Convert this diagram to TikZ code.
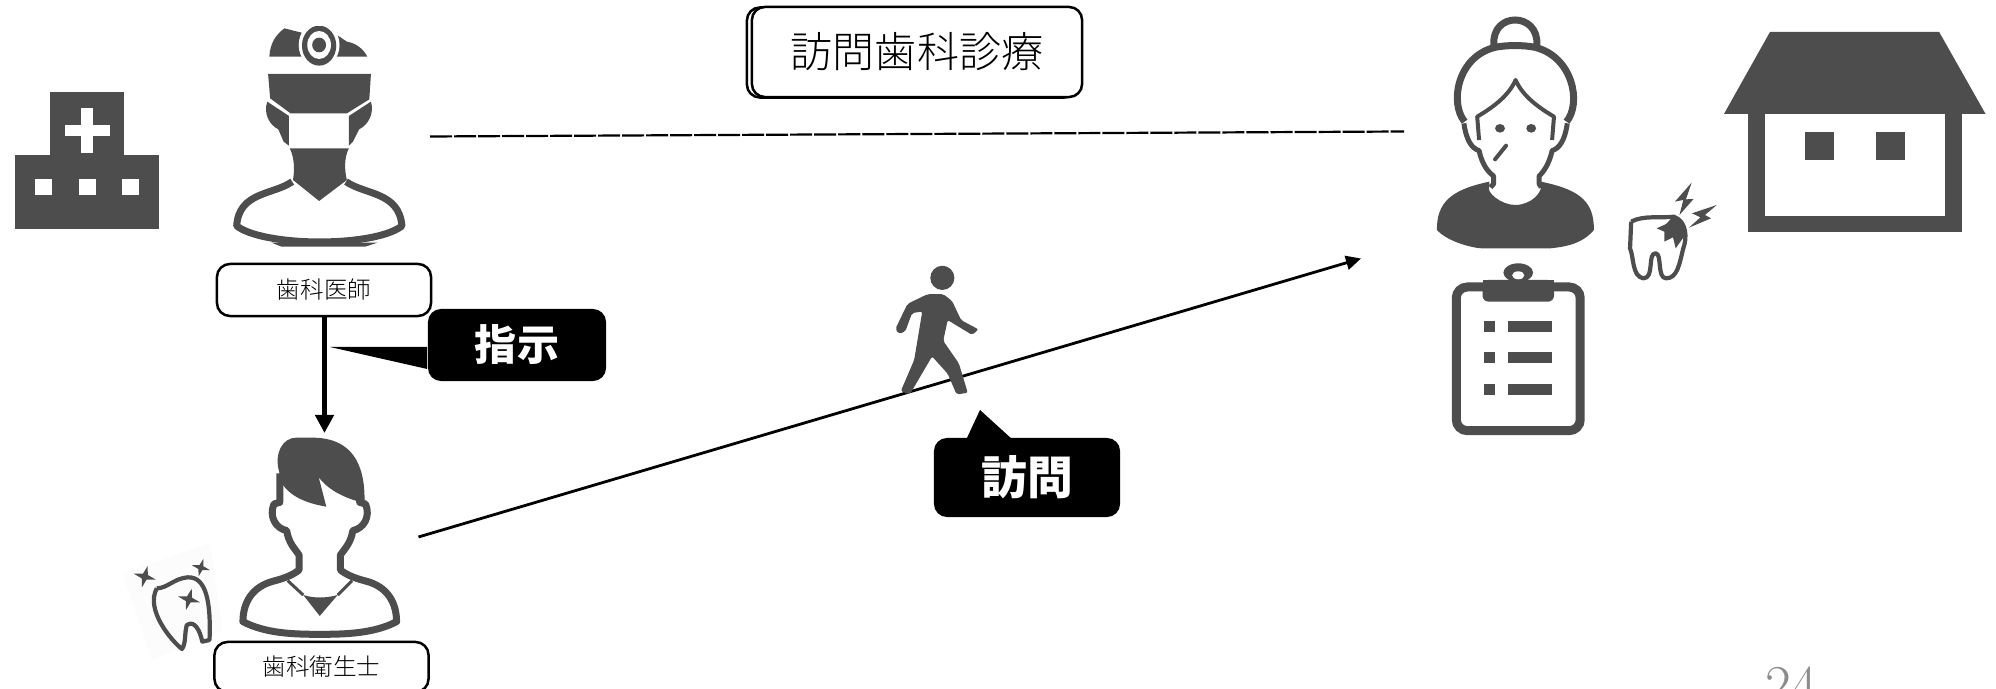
\documentclass[tikz,border=0pt]{standalone}
\usepackage{fontspec}
\newfontfamily\cjk{Noto Sans CJK JP}
\newfontfamily\cjklight{Noto Sans CJK JP Light}
\usepackage{xcolor}
\usepackage{tikz}
\usetikzlibrary{arrows.meta}
\definecolor{icongray}{HTML}{4D4D4D}
\tikzset{
    icon/.style={fill=icongray,draw=none},
    outline/.style={draw=icongray,line width=0.07cm,line join=round},
    rolebox/.style={draw=black,fill=white,line width=0.025cm,rounded corners=0.13cm,inner sep=0,
        minimum width=2.14cm,minimum height=0.52cm,font=\cjklight\fontsize{6.7}{8}\selectfont},
    callout/.style={fill=black,text=white,rounded corners=0.13cm,inner sep=0,font=\cjk\bfseries\fontsize{11.95}{14}\selectfont}
}

\begin{document}
\begin{tikzpicture}[x=0.01cm,y=-0.01cm]
    \useasboundingbox (0,0) rectangle (1996,689);

    % Hospital
    \fill[icon] (50,92) rectangle (124,155);
    \fill[icon] (15,155) rectangle (159,229);
    \fill[white] (81,108) rectangle (93,153);
    \fill[white] (64.5,125) rectangle (109.5,136);
    \foreach \wx in {35,79,122}
        \fill[white] (\wx,179) rectangle ++(17,16);

    % Dentist, head lamp and mask
    \begin{scope}[x=0.01cm/2.45,y=-0.01cm/3]
        \fill[icon] (660,170) .. controls (662,130) and (675,105) .. (697,85) -- (745,100) -- (820,100) -- (850,125)
            .. controls (875,130) and (892,150) .. (900,170) -- cycle;
        \fill[white] (782,135) ellipse (50 and 70);
        \fill[icon] (782,137) ellipse (42 and 60);
        \fill[white] (782,135) ellipse (29 and 42);
        \fill[icon] (782,135) ellipse (17 and 22);
        \fill[white] (700,60) rectangle (860,77);
        \fill[icon] (657,222) -- (909,222) -- (905,298) -- (850,340) -- (712,340) -- (662,295) -- cycle;
        \fill[icon] (655,305) -- (708,348) -- (708,437) -- (695,425) -- (682,388) .. controls (660,375) and (645,340) .. (655,305);
        \fill[icon] (909,305) -- (855,348) -- (855,437) -- (865,425) -- (880,388) .. controls (902,375) and (918,340) .. (909,305);
        \fill[icon] (710,445) -- (855,445) .. controls (842,475) and (845,515) .. (850,540) -- (782,603) -- (718,540)
            .. controls (722,510) and (722,475) .. (710,445);
        \draw[outline] (716,545) .. controls (670,585) and (585,575) .. (580,678) .. controls (620,715) and (720,726) .. (782,726)
            .. controls (850,726) and (945,715) .. (985,678) .. controls (978,575) and (895,585) .. (848,545);
        \fill[icon] (665,728) -- (925,728) -- (895,740) -- (690,740) -- cycle;
    \end{scope}

    % Role labels
    \node[rolebox] (dentist) at (324,290) {歯科医師};
    \node[rolebox,minimum height=0.5cm] (hygienist) at (321.5,667) {歯科衛生士};

    % Dental hygienist
    \begin{scope}[shift={(100,340)},x=0.01cm/2.904,y=-0.01cm/3]
        \draw[outline] (522,400) -- (522,487) -- (505,492) .. controls (490,530) and (510,565) .. (542,572)
            .. controls (548,610) and (565,625) .. (578,645) -- (578,690) .. controls (560,705) and (535,715) .. (505,723)
            .. controls (440,740) and (415,790) .. (415,845) .. controls (480,880) and (560,883) .. (638,883)
            .. controls (716,883) and (796,880) .. (861,845) .. controls (861,790) and (836,740) .. (771,723)
            .. controls (741,715) and (716,705) .. (698,690) -- (698,645) .. controls (711,625) and (728,610) .. (734,572)
            .. controls (766,565) and (786,530) .. (771,492) -- (754,487) -- (754,440);
        \fill[icon] (520,395) .. controls (505,340) and (530,293) .. (570,293) -- (620,293)
            .. controls (730,295) and (770,370) .. (768,485) -- (742,482) .. controls (690,465) and (655,440) .. (635,412)
            -- (657,500) .. controls (600,490) and (550,470) .. (525,425) -- cycle;
        \fill[icon] (590,765) .. controls (620,775) and (656,775) .. (690,765) -- (638,828) -- cycle;
        \draw[icongray,line width=0.03cm] (545,722) -- (590,765) (732,722) -- (690,765);
    \end{scope}

    % Tooth with stars
    \begin{scope}[shift={(100,340)},x=0.01cm/2.904,y=-0.01cm/3]
        \fill[black!1] (65,700) -- (320,610) -- (355,870) -- (150,960) -- cycle;
        \draw[draw=icongray,line width=0.042cm,line join=round] (165,745) .. controls (195,745) and (215,715) .. (255,712)
            .. controls (310,710) and (322,790) .. (318,900) -- (297,905) .. controls (285,850) and (265,845) .. (252,855)
            .. controls (245,880) and (250,910) .. (238,927) .. controls (210,905) and (130,810) .. (165,745);
        \foreach \sx/\sy/\sr in {130/710/33,293/683/27,258/778/33}
            \fill[icon,shift={(\sx,\sy)},rotate=-15] (0,-\sr) -- (0.22*\sr,-0.22*\sr) -- (\sr,0) -- (0.22*\sr,0.22*\sr)
                -- (0,\sr) -- (-0.22*\sr,0.22*\sr) -- (-\sr,0) -- (-0.22*\sr,-0.22*\sr) -- cycle;
    \end{scope}

    % Title box, with a second outline behind it
    \node[rolebox,minimum width=3.3cm,minimum height=0.9cm] (titleshade) at (912,52.5) {};
    \node[rolebox,minimum width=3.3cm,minimum height=0.9cm,font=\cjklight\fontsize{11.95}{14}\selectfont] (titlebox) at (917,52) {訪問歯科診療};

    % Links between the people
    \coordinate (dashstart) at (430,136.5);
    \coordinate (dashend) at (1404,131.5);
    \coordinate (hygienisttop) at (324.5,433);
    \coordinate (visitstart) at (418.5,537);
    \coordinate (visitend) at (1361,258.5);
    \draw[line width=0.022cm,dash pattern=on 0.22cm off 0.02cm] (dashstart) -- (dashend);
    \draw[line width=0.055cm,-{Triangle[width=0.18cm,length=0.18cm]}] (dentist.south -| hygienisttop) -- (hygienisttop);
    \draw[line width=0.028cm,-{Triangle[width=0.14cm,length=0.15cm]}] (visitstart) -- (visitend);

    % Callouts
    \node[callout,minimum width=1.78cm,minimum height=0.72cm] (order) at (517,345) {指示};
    \fill (order.west |- 0,347) -- (330,347) -- (order.west |- 0,369) -- cycle;
    \node[callout,minimum width=1.86cm,minimum height=0.79cm,font=\cjk\bfseries\fontsize{13}{15}\selectfont] (visit) at (1027,477.5) {訪問};
    \fill (966,440) -- (980,410) -- (1013,440) -- cycle;

    % Walking person
    \begin{scope}[shift={(700,0)},x=0.01cm/2.24,y=-0.01cm/2.89]
        \fill[icon] (543,803) ellipse (27 and 35);
        \fill[icon,rounded corners=0.02cm] (510,850) -- (465,878) -- (438,950) -- (445,965) -- (460,958) -- (475,905) -- (498,900) -- (480,1040)
            -- (450,1130) -- (470,1140) -- (520,1030) -- (555,1080) -- (575,1140) -- (600,1135) -- (580,1050)
            -- (545,985) -- (555,925) -- (610,968) -- (624,952) -- (585,925) -- (565,870) -- (545,850) -- cycle;
    \end{scope}

    % Patient, clipboard, aching tooth and home
    \begin{scope}[shift={(1400,0)},x=0.01cm/2.63,y=-0.01cm/3]
        \draw[outline] (247,135) .. controls (240,35) and (365,35) .. (360,135);
        \draw[outline] (170,365) .. controls (130,310) and (150,170) .. (250,142) .. controls (280,135) and (325,135) .. (355,142)
            .. controls (455,170) and (478,310) .. (438,365);
        \draw[draw=icongray,line width=0.04cm,line join=round] (208,420) -- (203,350) .. controls (240,325) and (285,290) .. (304,240)
            .. controls (323,290) and (368,325) .. (405,350) -- (400,420);
        \draw[outline,line width=0.05cm] (168,370) .. controls (175,425) and (190,445) .. (208,452) .. controls (215,490) and (230,515) .. (246,528) -- (246,552) -- (238,562);
        \draw[outline,line width=0.05cm] (440,370) .. controls (433,425) and (418,445) .. (400,452) .. controls (393,490) and (378,515) .. (366,528) -- (366,552) -- (372,562);
        \fill[icon] (235,545) .. controls (130,570) and (97,610) .. (97,690) .. controls (130,730) and (200,745) .. (215,745)
            -- (395,745) .. controls (440,740) and (480,730) .. (510,690) .. controls (510,610) and (480,570) .. (370,545)
            .. controls (380,575) and (345,615) .. (303,615) .. controls (265,615) and (225,575) .. (235,560) -- cycle;
        \fill[icon] (263,385) ellipse (13 and 13);
        \fill[icon] (345,385) ellipse (13 and 13);
        \draw[icongray,line width=0.04cm,line cap=round] (279,437) -- (250,478);

        % clipboard
        \draw[draw=icongray,line width=0.09cm,rounded corners=0.11cm] (148,861) rectangle (474,1292);
        \fill[icon] (311,818) ellipse (39 and 28);
        \fill[white] (311,826) ellipse (16 and 12);
        \fill[icon,rounded corners=0.06cm] (217,840) rectangle (405,905);
        \fill[icon] (217,840) rectangle (405,870);
        \foreach \ry in {962,1057,1153} {
            \fill[icon] (222,\ry) rectangle ++(28,33);
            \fill[icon] (283,\ry) rectangle ++(117,33);
        }

        % aching tooth
        \draw[draw=icongray,line width=0.042cm,line join=round] (608,665) .. controls (640,645) and (690,655) .. (720,650)
            .. controls (755,665) and (755,715) .. (745,745) .. controls (735,790) and (730,835) .. (700,835)
            .. controls (675,835) and (690,760) .. (672,760) .. controls (650,760) and (670,835) .. (640,835)
            .. controls (610,830) and (615,770) .. (605,745) -- (608,665);
        \fill[icon] (675,685) -- (700,672) -- (718,650) -- (745,665) -- (750,705) -- (725,745) -- (718,712) -- (695,725) -- (695,695) -- cycle;
        \fill[icon] (767,548) -- (723,605) -- (745,600) -- (735,645) -- (772,597) -- (752,598) -- cycle;
        \fill[icon] (833,615) -- (768,640) -- (790,652) -- (760,683) -- (818,655) -- (802,645) -- cycle;

        % home
        \fill[icon] (973,96) -- (1418,96) -- (1540,342) -- (852,342) -- cycle;
        \fill[icon] (916,342) rectangle (1478,697);
        \fill[white] (960,342) rectangle (1434,647);
        \fill[icon] (1066,395) rectangle (1141,480);
        \fill[icon] (1253,395) rectangle (1329,480);
    \end{scope}

    % Page number, cut by the lower edge as in the reference
    \node[anchor=base,inner sep=0,text=black!45,font=\fontsize{16}{18}\selectfont] (pagenum) at (1791,705) {24};
\end{tikzpicture}
\end{document}
